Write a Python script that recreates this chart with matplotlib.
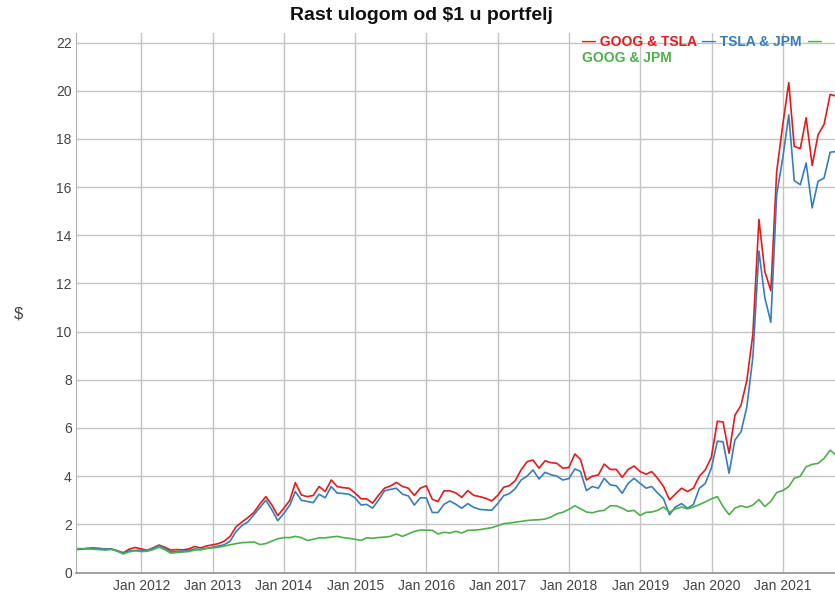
"""Rast ulogom od $1 u portfelj - line chart recreation."""

import matplotlib

matplotlib.use("Agg")
import matplotlib.dates as mdates
import matplotlib.pyplot as plt
import pandas as pd

plt.rcParams["font.family"] = ["Liberation Sans", "DejaVu Sans"]

# month-end values, Jan 2011 .. Sep 2021
dates = pd.date_range(start="2011-01-31", periods=129, freq=pd.offsets.MonthEnd())

goog_tsla = [
    0.95, 0.97, 1.00, 1.02, 0.99, 0.98, 0.97, 0.90, 0.82, 0.97, 1.04, 0.98,
    0.92, 1.02, 1.14, 1.05, 0.93, 0.95, 0.94, 0.98, 1.08, 1.02, 1.10, 1.15,
    1.20, 1.30, 1.50, 1.90, 2.10, 2.28, 2.50, 2.85, 3.15, 2.80, 2.36, 2.67,
    3.00, 3.73, 3.22, 3.15, 3.20, 3.57, 3.36, 3.84, 3.57, 3.52, 3.50, 3.30,
    3.06, 3.06, 2.88, 3.20, 3.50, 3.59, 3.74, 3.57, 3.50, 3.20, 3.50, 3.60,
    3.04, 2.94, 3.39, 3.39, 3.30, 3.12, 3.40, 3.20, 3.15, 3.08, 2.97, 3.20,
    3.54, 3.60, 3.81, 4.26, 4.60, 4.67, 4.33, 4.64, 4.56, 4.53, 4.33, 4.36,
    4.92, 4.70, 3.84, 4.00, 4.05, 4.50, 4.28, 4.28, 3.95, 4.28, 4.42, 4.19,
    4.08, 4.19, 3.91, 3.57, 3.02, 3.26, 3.50, 3.36, 3.50, 4.00, 4.26, 4.78,
    6.28, 6.25, 4.95, 6.53, 6.94, 7.97, 9.90, 14.66, 12.50, 11.70, 16.65, 18.58,
    20.34, 17.69, 17.60, 18.88, 16.90, 18.17, 18.61, 19.85, 19.78,
]

tsla_jpm = [
    0.97, 0.98, 1.00, 1.00, 1.00, 0.97, 0.98, 0.90, 0.80, 0.90, 0.92, 0.93,
    0.90, 1.00, 1.12, 1.00, 0.85, 0.87, 0.88, 0.92, 0.98, 0.95, 1.00, 1.05,
    1.10, 1.15, 1.30, 1.70, 1.95, 2.10, 2.40, 2.70, 3.00, 2.60, 2.15, 2.45,
    2.80, 3.36, 3.00, 2.95, 2.90, 3.25, 3.10, 3.57, 3.30, 3.28, 3.25, 3.10,
    2.80, 2.83, 2.67, 3.00, 3.39, 3.45, 3.50, 3.25, 3.18, 2.80, 3.10, 3.10,
    2.49, 2.49, 2.83, 2.97, 2.83, 2.67, 2.86, 2.70, 2.62, 2.60, 2.58, 2.86,
    3.19, 3.27, 3.48, 3.84, 4.00, 4.26, 3.88, 4.16, 4.06, 4.00, 3.84, 3.90,
    4.30, 4.20, 3.40, 3.57, 3.50, 3.91, 3.64, 3.60, 3.29, 3.70, 3.91, 3.70,
    3.50, 3.57, 3.30, 3.06, 2.40, 2.72, 2.86, 2.67, 2.82, 3.50, 3.70, 4.33,
    5.45, 5.43, 4.12, 5.50, 5.84, 6.87, 8.94, 13.35, 11.42, 10.39, 15.69, 17.20,
    19.00, 16.27, 16.10, 17.00, 15.14, 16.24, 16.38, 17.45, 17.48,
]

goog_jpm = [
    1.00, 0.99, 0.98, 0.97, 0.95, 0.93, 0.96, 0.88, 0.77, 0.86, 0.90, 0.87,
    0.88, 0.95, 1.05, 0.95, 0.80, 0.83, 0.85, 0.87, 0.93, 0.95, 1.00, 1.02,
    1.05, 1.10, 1.15, 1.20, 1.24, 1.25, 1.27, 1.16, 1.20, 1.30, 1.40, 1.45,
    1.45, 1.50, 1.45, 1.33, 1.38, 1.44, 1.44, 1.47, 1.50, 1.45, 1.42, 1.38,
    1.33, 1.44, 1.42, 1.45, 1.47, 1.50, 1.60, 1.50, 1.60, 1.71, 1.76, 1.76,
    1.75, 1.60, 1.67, 1.64, 1.71, 1.64, 1.75, 1.76, 1.78, 1.82, 1.86, 1.94,
    2.03, 2.05, 2.09, 2.12, 2.16, 2.18, 2.19, 2.22, 2.30, 2.44, 2.50, 2.62,
    2.77, 2.65, 2.51, 2.48, 2.55, 2.58, 2.77, 2.77, 2.67, 2.54, 2.58, 2.37,
    2.50, 2.51, 2.58, 2.72, 2.50, 2.64, 2.72, 2.64, 2.72, 2.82, 2.93, 3.06,
    3.15, 2.74, 2.40, 2.67, 2.77, 2.70, 2.80, 3.03, 2.74, 2.95, 3.32, 3.40,
    3.57, 3.91, 4.00, 4.39, 4.49, 4.53, 4.74, 5.08, 4.88,
]

series = [
    ("GOOG & TSLA", goog_tsla, "#e41a1c"),
    ("TSLA & JPM", tsla_jpm, "#377eb8"),
    ("GOOG & JPM", goog_jpm, "#4daf4a"),
]

W, H = 835, 599
fig = plt.figure(figsize=(W / 100, H / 100), dpi=100)
ax = fig.add_axes([76 / W, 1 - 572.5 / H, 760 / W, 539.5 / H])

for name, vals, color in series:
    ax.plot(dates, vals, color=color, linewidth=1.2, label=name)

ax.set_xlim(dates[0], dates[-1])
ax.set_ylim(0, 22.4)
ax.set_yticks(range(0, 23, 2))
ax.xaxis.set_major_formatter(mdates.DateFormatter("%b %Y"))
ax.set_xticks([pd.Timestamp(f"{y}-01-01") for y in range(2012, 2022)])

ax.grid(True, color="#c4c4c4", linewidth=1.0)
ax.set_axisbelow(True)
for side in ("top", "right"):
    ax.spines[side].set_visible(False)
ax.spines["left"].set_color("#b0b0b0")
ax.spines["bottom"].set_color("#9a9a9a")
ax.spines["bottom"].set_linewidth(1.3)
ax.tick_params(length=0, labelsize=10, labelcolor="#444444")
ax.tick_params(axis="y", pad=3)
ax.tick_params(axis="x", pad=5)

ax.set_ylabel("$", fontsize=12, color="#444444", rotation=0, ha="center", va="center")
ax.yaxis.set_label_coords(-0.076, 0.48)

fig.text(421.5 / W, 1 - 15 / H, "Rast ulogom od $1 u portfelj",
         ha="center", va="center", fontsize=14, fontweight="bold", color="#111111")

# legend laid out like the original (wraps to a second line)
legend_items = [
    (582, 42, "— GOOG & TSLA", "#e41a1c"),
    (702, 42, "— TSLA & JPM", "#377eb8"),
    (808, 42, "—", "#4daf4a"),
    (582, 58, "GOOG & JPM", "#4daf4a"),
]
for x, y, txt, color in legend_items:
    fig.text(x / W, 1 - y / H, txt, ha="left", va="center",
             fontsize=10, fontweight="bold", color=color)

fig.savefig("out.png", dpi=100)
